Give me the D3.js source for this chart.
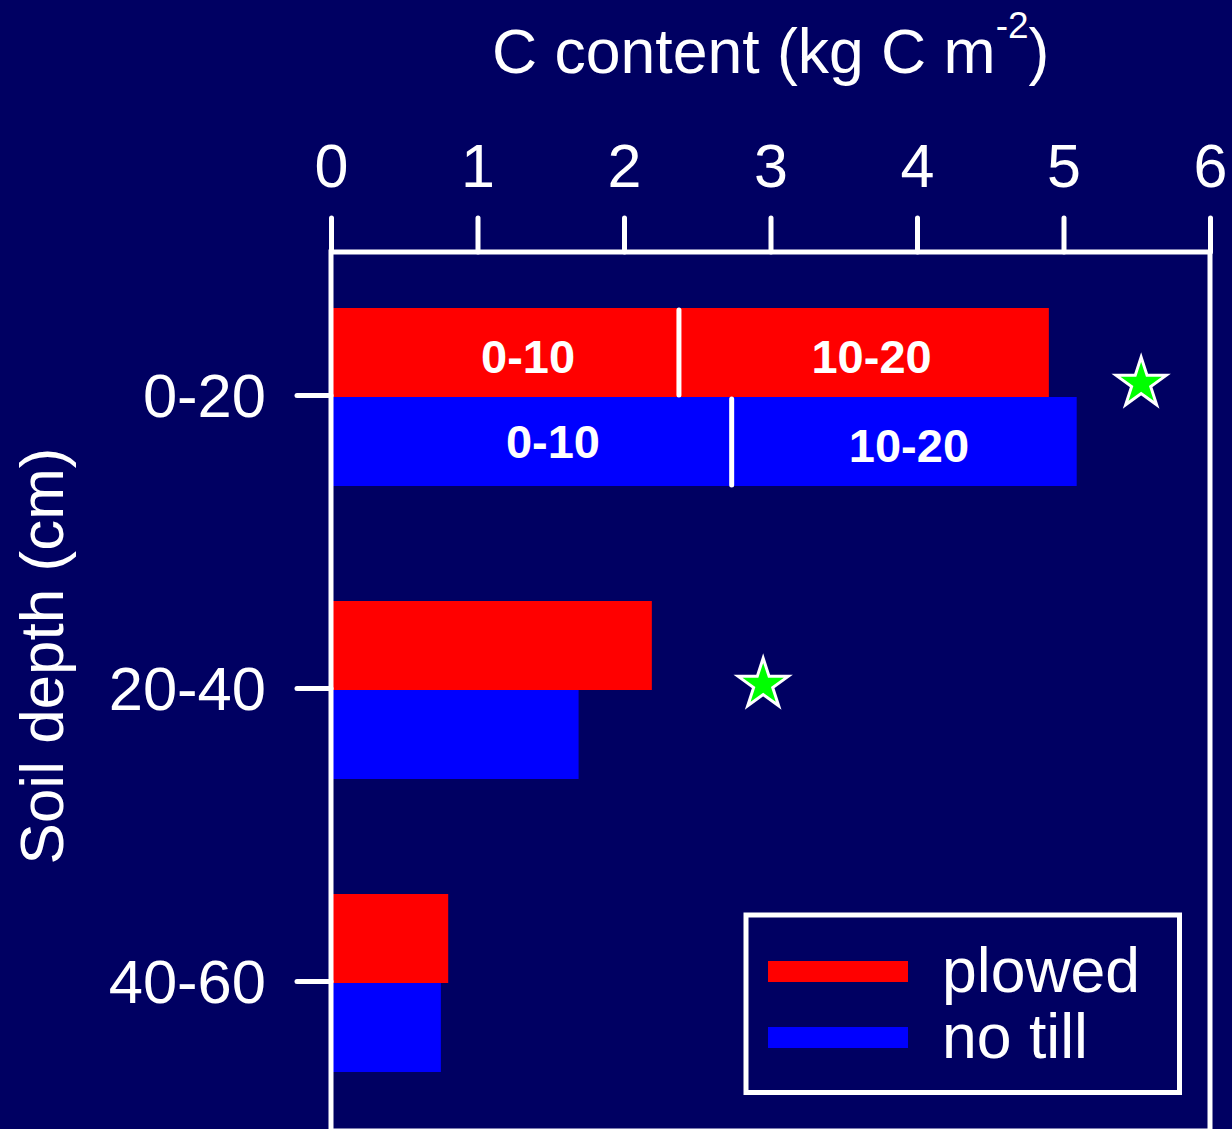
<!DOCTYPE html>
<html>
<head>
<meta charset="utf-8">
<script src="https://cdn.jsdelivr.net/npm/d3@7"></script>
<style>
  html, body { margin: 0; padding: 0; background: #000062; }
  svg { display: block; }
  text { font-family: "Liberation Sans", Arial, Helvetica, sans-serif; fill: #fff; }
</style>
</head>
<body>
<svg id="chart" width="1232" height="1129"></svg>
<script>
// ---- data ----
const categories = ["0-20", "20-40", "40-60"];
const plowed = [4.90, 2.19, 0.80];
const noTill = [5.09, 1.69, 0.75];
const xTicks = [0, 1, 2, 3, 4, 5, 6];
// split of the 0-20 layer into 0-10 / 10-20
const plowedTop010 = 2.375;
const noTillTop010 = 2.735;
const segLabels = ["0-10", "10-20"];
const plowedSegLabelX = [1.345, 3.69];
const noTillSegLabelX = [1.515, 3.945];
// significance stars
const starCats = ["0-20", "20-40"];
const starX = [5.53, 2.95];
const seriesNames = ["plowed", "no till"];

// ---- layout ----
const W = 1232, H = 1129;
const svg = d3.select("#chart");
const bg = "#000062";
svg.append("rect").attr("width", W).attr("height", H).attr("fill", bg);

const x = d3.scaleLinear().domain([0, 6]).range([331, 1210]);
const y = d3.scaleBand().domain(categories).range([250.5, 1129.5]).padding(0);
const barH = 89;
const colors = { plowed: "#ff0000", noTill: "#0000ff" };

// bars
const g = svg.append("g");
g.selectAll("rect.plowed").data(categories).join("rect")
  .attr("class", "plowed")
  .attr("x", x(0)).attr("width", (d, i) => x(plowed[i]) - x(0))
  .attr("y", d => y(d) + y.bandwidth() / 2 - barH).attr("height", barH)
  .attr("fill", colors.plowed);
g.selectAll("rect.notill").data(categories).join("rect")
  .attr("class", "notill")
  .attr("x", x(0)).attr("width", (d, i) => x(noTill[i]) - x(0))
  .attr("y", d => y(d) + y.bandwidth() / 2).attr("height", barH)
  .attr("fill", colors.noTill);

// split lines in 0-20 layer
const c0 = y(categories[0]) + y.bandwidth() / 2;
g.append("line").attr("x1", x(plowedTop010)).attr("x2", x(plowedTop010))
  .attr("y1", c0 - barH + 2).attr("y2", c0 - 2)
  .attr("stroke", "#fff").attr("stroke-width", 5).attr("stroke-linecap", "round");
g.append("line").attr("x1", x(noTillTop010)).attr("x2", x(noTillTop010))
  .attr("y1", c0 + 2).attr("y2", c0 + barH - 1)
  .attr("stroke", "#fff").attr("stroke-width", 5).attr("stroke-linecap", "round");

// segment labels
g.selectAll("text.pl").data(segLabels).join("text")
  .attr("class", "pl")
  .attr("x", (d, i) => x(plowedSegLabelX[i])).attr("y", c0 - 24)
  .attr("text-anchor", "middle").attr("font-weight", "bold").attr("font-size", 47)
  .text(d => d);
g.selectAll("text.nt").data(segLabels).join("text")
  .attr("class", "nt")
  .attr("x", (d, i) => x(noTillSegLabelX[i])).attr("y", (d, i) => c0 + (i === 0 ? 61 : 65))
  .attr("text-anchor", "middle").attr("font-weight", "bold").attr("font-size", 47)
  .text(d => d);

// stars
const starPath = d3.symbol().type(d3.symbolStar).size(780)();
const starDy = [-13.5, -5.5];
g.selectAll("path.star").data(starCats).join("path")
  .attr("class", "star")
  .attr("d", starPath)
  .attr("transform", (d, i) => `translate(${x(starX[i])},${y(d) + y.bandwidth() / 2 + starDy[i]})`)
  .attr("fill", "#00ff00").attr("stroke", "#fff").attr("stroke-width", 3)
  .attr("stroke-linejoin", "miter");

// plot box
svg.append("rect").attr("x", 331).attr("y", 252).attr("width", 879).attr("height", 879)
  .attr("fill", "none").attr("stroke", "#fff").attr("stroke-width", 5);

// top axis
const xAxis = d3.axisTop(x).tickValues(xTicks).tickFormat(d3.format("d"))
  .tickSize(34).tickPadding(31);
const gx = svg.append("g").attr("transform", "translate(0,252)").call(xAxis);
gx.select(".domain").remove();
gx.selectAll(".tick line").attr("stroke", "#fff").attr("stroke-width", 5).attr("stroke-linecap", "round");
gx.selectAll(".tick text").attr("font-size", 61).attr("fill", "#fff").attr("dy", "0em")
  .attr("font-family", "'Liberation Sans', Arial, sans-serif");

// left axis
const yAxis = d3.axisLeft(y).tickSize(34).tickPadding(31);
const gy = svg.append("g").attr("transform", "translate(331,-1.5)").call(yAxis);
gy.select(".domain").remove();
gy.selectAll(".tick line").attr("stroke", "#fff").attr("stroke-width", 5).attr("stroke-linecap", "round");
gy.selectAll(".tick text").attr("font-size", 61.5).attr("fill", "#fff").attr("dy", "0.35em")
  .attr("font-family", "'Liberation Sans', Arial, sans-serif");

// titles
const title = svg.append("text").attr("x", 492).attr("y", 73).attr("font-size", 62.5);
title.append("tspan").text("C content (kg C m");
title.append("tspan").attr("font-size", 37).attr("dy", -35).text("-2");
title.append("tspan").attr("dy", 35).text(")");

svg.append("text").attr("transform", "translate(63,656) rotate(-90)")
  .attr("text-anchor", "middle").attr("font-size", 62).text("Soil depth (cm)");

// legend
const lg = svg.append("g");
lg.append("rect").attr("x", 746).attr("y", 915).attr("width", 433.5).attr("height", 177.5)
  .attr("fill", bg).attr("stroke", "#fff").attr("stroke-width", 5);
const legColors = [colors.plowed, colors.noTill];
lg.selectAll("rect.sw").data(seriesNames).join("rect")
  .attr("class", "sw")
  .attr("x", 768).attr("width", 140)
  .attr("y", (d, i) => 961 + i * 66).attr("height", 21)
  .attr("fill", (d, i) => legColors[i]);
lg.selectAll("text.lt").data(seriesNames).join("text")
  .attr("class", "lt")
  .attr("x", 942).attr("y", (d, i) => 992 + i * 66)
  .attr("font-size", 62.5).text(d => d);
</script>
</body>
</html>
